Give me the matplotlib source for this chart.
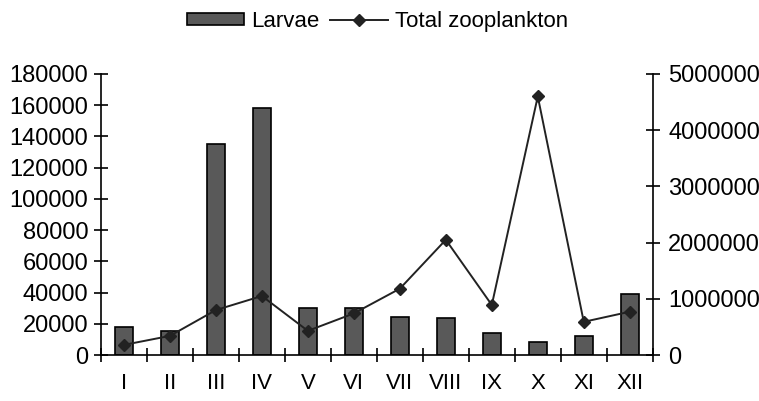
import numpy as np
import matplotlib
matplotlib.use("Agg")
from matplotlib import pyplot as plt
from matplotlib.ticker import FuncFormatter

plt.rcParams['font.family'] = ['Liberation Sans', 'DejaVu Sans']

# months
months = ['I', 'II', 'III', 'IV', 'V', 'VI', 'VII', 'VIII', 'IX', 'X', 'XI', 'XII']
# larvae (left axis)
larvae = [18000, 15500, 135000, 158000, 30000, 30000, 24500, 23500, 14300, 8500, 12200, 39000]
# total zooplankton (right axis)
total_zoo = [180000, 340000, 800000, 1050000, 430000, 740000, 1180000, 2050000, 890000, 4600000, 590000, 770000]

fig = plt.figure(figsize=(7.59, 4.01), dpi=100)
ax1 = fig.add_axes([0.133, 0.1147, 0.727, 0.7008])
ax2 = ax1.twinx()

x = np.arange(len(months))
bars = ax1.bar(x, larvae, width=0.4, color='#595959', edgecolor='black', linewidth=1.2, label='Larvae')
line, = ax2.plot(x, total_zoo, color='#222222', linewidth=1.4, marker='D', markersize=6,
                 markerfacecolor='#222222', markeredgecolor='#222222', label='Total zooplankton')

ax1.set_xlim(-0.5, len(months) - 0.5)
ax1.set_ylim(0, 180000)
ax2.set_ylim(0, 5000000)
ax1.set_yticks(np.arange(0, 180001, 20000))
ax2.set_yticks(np.arange(0, 5000001, 1000000))
ax2.yaxis.set_major_formatter(FuncFormatter(lambda v, p: '%d' % v))

# month labels between boundary ticks
ax1.set_xticks(x)
ax1.set_xticklabels(months)
ax1.tick_params(axis='x', length=0, pad=13, labelsize=16)
ax1.set_xticks(np.arange(-0.5, len(months)), minor=True)
ax1.tick_params(axis='x', which='minor', direction='inout', length=10, width=1.2)

ax1.tick_params(axis='y', direction='inout', length=10, width=1.2, labelsize=17, pad=4)
ax2.tick_params(axis='y', direction='inout', length=10, width=1.2, labelsize=17, pad=6)

for a in (ax1, ax2):
    a.spines['top'].set_visible(False)
    for s in ('left', 'right', 'bottom'):
        a.spines[s].set_linewidth(1.2)
ax1.spines['right'].set_visible(False)
ax2.spines['left'].set_visible(False)
ax2.spines['bottom'].set_visible(False)

fig.legend([bars, line], ['Larvae', 'Total zooplankton'], loc='upper center',
           bbox_to_anchor=(0.497, 1.022), ncol=2, frameon=False, fontsize=16,
           handlelength=2.6, handleheight=0.45, handletextpad=0.3, columnspacing=0.5)

plt.savefig('out.png', dpi=100)
